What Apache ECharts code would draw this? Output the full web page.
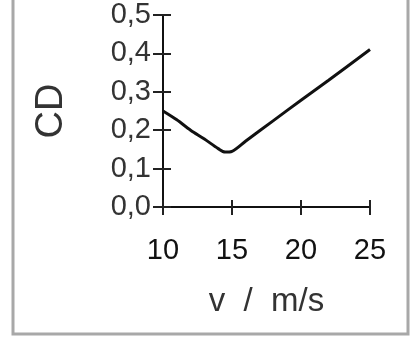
<!DOCTYPE html>
<html>
<head>
<meta charset="utf-8">
<script src="https://cdn.jsdelivr.net/npm/echarts@6/dist/echarts.min.js"></script>
<style>
  html, body { margin: 0; padding: 0; background: #fff; }
  #chart { width: 411px; height: 339px; }
</style>
</head>
<body>
<div id="chart"></div>
<script>
// speed (m/s) and drag coefficient
const speeds = [10, 11, 12, 13, 14, 14.5, 15, 16, 18, 20, 22, 25]
const cdValues = [0.25, 0.227, 0.2, 0.177, 0.152, 0.143, 0.145, 0.172, 0.225, 0.278, 0.33, 0.41]
const xTicks = [10, 15, 20, 25]
const yTicks = [0, 0.1, 0.2, 0.3, 0.4, 0.5]

const chart = echarts.init(document.getElementById('chart'))
const font = 'Liberation Sans, Arial, sans-serif'

// ticks cross the axis: outer ticks on the main axes, inner ones on a twin axis
const xBase = {
  type: 'value',
  min: xTicks[0],
  max: xTicks[xTicks.length - 1],
  interval: 5,
  splitLine: { show: false }
}
const yBase = {
  type: 'value',
  min: yTicks[0],
  max: yTicks[yTicks.length - 1],
  interval: 0.1,
  splitLine: { show: false }
}

const option = {
  animation: false,
  grid: { left: 163, right: 41, top: 15, bottom: 132 },
  graphic: [
    {
      type: 'polyline',
      shape: { points: [[13, 0], [13, 334], [408, 334], [408, 0]] },
      style: { stroke: '#a8a8a8', lineWidth: 3, fill: null }
    }
  ],
  xAxis: [
    Object.assign({}, xBase, {
      name: 'v  /  m/s',
      nameLocation: 'middle',
      nameGap: 78,
      nameTextStyle: { fontFamily: font, fontSize: 33, color: '#333' },
      axisLine: { lineStyle: { color: '#111', width: 2 } },
      axisTick: { length: 8, lineStyle: { color: '#222', width: 2 } },
      axisLabel: { fontFamily: font, fontSize: 29, color: '#111', margin: 29 }
    }),
    Object.assign({}, xBase, {
      position: 'bottom',
      axisLine: { show: false },
      axisTick: { inside: true, length: 7, lineStyle: { color: '#222', width: 2 } },
      axisLabel: { show: false }
    })
  ],
  yAxis: [
    Object.assign({}, yBase, {
      name: 'CD',
      nameLocation: 'middle',
      nameGap: 92,
      nameTextStyle: { fontFamily: font, fontSize: 38, color: '#333' },
      axisLine: { lineStyle: { color: '#111', width: 2 } },
      axisTick: { length: 10, lineStyle: { color: '#222', width: 2 } },
      axisLabel: {
        fontFamily: font,
        fontSize: 29,
        color: '#333',
        margin: 12,
        formatter: v => v.toFixed(1).replace('.', ',')
      }
    }),
    Object.assign({}, yBase, {
      position: 'left',
      axisLine: { show: false },
      axisTick: { inside: true, length: 8, lineStyle: { color: '#222', width: 2 } },
      axisLabel: { show: false }
    })
  ],
  series: [
    {
      type: 'line',
      data: speeds.map((v, i) => [v, cdValues[i]]),
      smooth: 0.3,
      symbol: 'none',
      lineStyle: { color: '#111', width: 3 }
    }
  ]
}

chart.setOption(option)
</script>
</body>
</html>
